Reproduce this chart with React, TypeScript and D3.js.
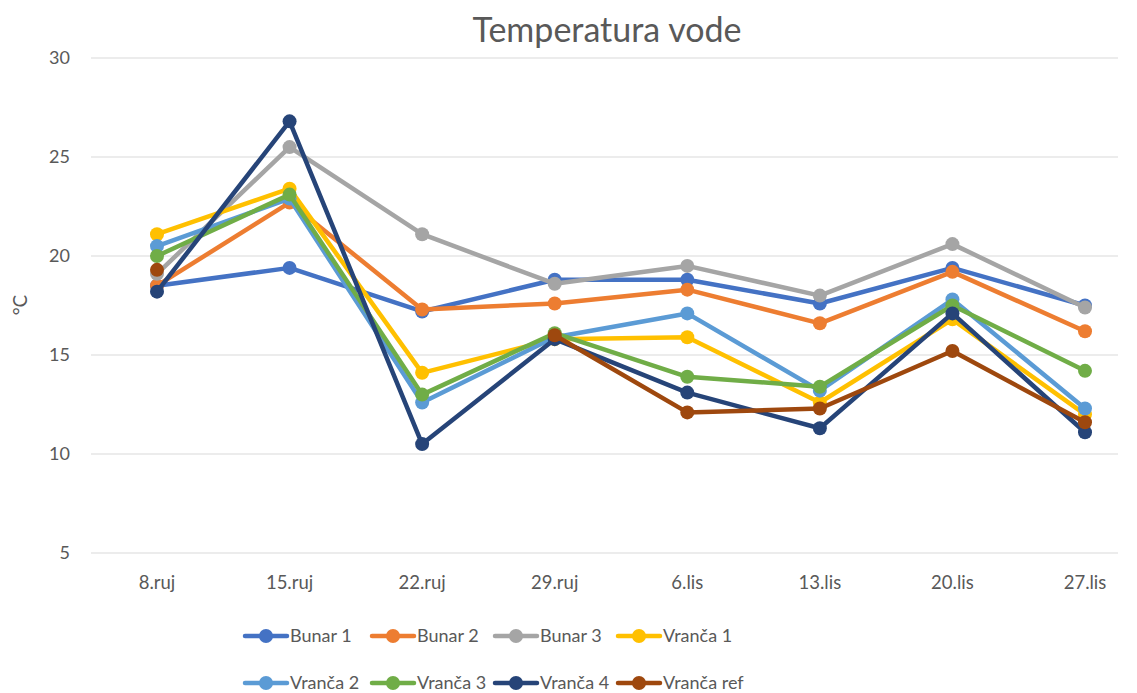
import React, { useEffect, useRef } from 'react';
import * as d3 from 'd3';

const categories = ['8.ruj', '15.ruj', '22.ruj', '29.ruj', '6.lis', '13.lis', '20.lis', '27.lis'];
const yTicks = [5, 10, 15, 20, 25, 30];

const bunar1 = [18.5, 19.4, 17.2, 18.8, 18.8, 17.6, 19.4, 17.5];
const bunar2 = [18.5, 22.7, 17.3, 17.6, 18.3, 16.6, 19.2, 16.2];
const bunar3 = [19.1, 25.5, 21.1, 18.6, 19.5, 18.0, 20.6, 17.4];
const vranca1 = [21.1, 23.4, 14.1, 15.8, 15.9, 12.6, 16.8, 12.0];
const vranca2 = [20.5, 22.9, 12.6, 15.9, 17.1, 13.2, 17.8, 12.3];
const vranca3 = [20.0, 23.1, 13.0, 16.1, 13.9, 13.4, 17.5, 14.2];
const vranca4 = [18.2, 26.8, 10.5, 15.8, 13.1, 11.3, 17.1, 11.1];
const vrancaRef = [19.3, null, null, 16.0, 12.1, 12.3, 15.2, 11.6];

const seriesNames = ['Bunar 1', 'Bunar 2', 'Bunar 3', 'Vranča 1', 'Vranča 2', 'Vranča 3', 'Vranča 4', 'Vranča ref'];
const colors = ['#4472C4', '#ED7D31', '#A5A5A5', '#FFC000', '#5B9BD5', '#70AD47', '#264478', '#9E480E'];

const App = () => {
  const svgRef = useRef<SVGSVGElement>(null);

  useEffect(() => {
    const width = 1137;
    const height = 693;
    const font = 'Lato, "Open Sans", sans-serif';
    const textColor = '#595959';
    const allData = [bunar1, bunar2, bunar3, vranca1, vranca2, vranca3, vranca4, vrancaRef];

    const svg = d3.select(svgRef.current);
    svg.selectAll('*').remove();
    svg.attr('width', width).attr('height', height);

    const x = d3.scalePoint<string>().domain(categories).range([157, 1085]);
    const y = d3.scaleLinear().domain([5, 30]).range([553, 58]);
    const left = 91;
    const right = 1118;

    // gridlines
    svg.append('g')
      .selectAll('line')
      .data(yTicks)
      .join('line')
      .attr('x1', left)
      .attr('x2', right)
      .attr('y1', d => y(d))
      .attr('y2', d => y(d))
      .attr('stroke', '#d9d9d9')
      .attr('stroke-width', 1);

    // y tick labels
    svg.append('g')
      .selectAll('text')
      .data(yTicks)
      .join('text')
      .attr('x', 70)
      .attr('y', d => y(d))
      .attr('dy', '0.35em')
      .attr('text-anchor', 'end')
      .attr('font-family', font)
      .attr('font-size', 18)
      .attr('fill', textColor)
      .text(d => d);

    // x tick labels
    svg.append('g')
      .selectAll('text')
      .data(categories)
      .join('text')
      .attr('x', d => x(d)!)
      .attr('y', 589)
      .attr('text-anchor', 'middle')
      .attr('font-family', font)
      .attr('font-size', 18.5)
      .attr('fill', textColor)
      .text(d => d);

    // title
    svg.append('text')
      .attr('x', 607)
      .attr('y', 42)
      .attr('text-anchor', 'middle')
      .attr('font-family', font)
      .attr('font-size', 34)
      .attr('fill', textColor)
      .text('Temperatura vode');

    // y axis label
    svg.append('text')
      .attr('transform', 'translate(27,305) rotate(-90)')
      .attr('text-anchor', 'middle')
      .attr('font-family', font)
      .attr('font-size', 19)
      .attr('fill', textColor)
      .text('°C');

    const line = d3.line<number | null>()
      .defined(d => d !== null)
      .x((d, i) => x(categories[i])!)
      .y(d => y(d as number));

    allData.forEach((vals, si) => {
      const g = svg.append('g');
      g.append('path')
        .datum(vals)
        .attr('fill', 'none')
        .attr('stroke', colors[si])
        .attr('stroke-width', 4.5)
        .attr('stroke-linejoin', 'round')
        .attr('stroke-linecap', 'round')
        .attr('d', line);
      g.selectAll('circle')
        .data(vals.map((v, i) => ({ v, i })).filter(d => d.v !== null))
        .join('circle')
        .attr('cx', d => x(categories[d.i])!)
        .attr('cy', d => y(d.v as number))
        .attr('r', 7)
        .attr('fill', colors[si]);
    });

    // legend
    const legendX = [243, 370, 493, 616];
    const legendY = [636, 683];
    seriesNames.forEach((name, i) => {
      const lx = legendX[i % 4];
      const ly = legendY[Math.floor(i / 4)];
      const g = svg.append('g');
      g.append('line')
        .attr('x1', lx + 2)
        .attr('x2', lx + 44)
        .attr('y1', ly)
        .attr('y2', ly)
        .attr('stroke', colors[i])
        .attr('stroke-width', 4.5)
        .attr('stroke-linecap', 'round');
      g.append('circle')
        .attr('cx', lx + 23)
        .attr('cy', ly)
        .attr('r', 7)
        .attr('fill', colors[i]);
      g.append('text')
        .attr('x', lx + 47)
        .attr('y', ly)
        .attr('dy', '0.35em')
        .attr('font-family', font)
        .attr('font-size', 18)
        .attr('fill', textColor)
        .text(name);
    });
  }, []);

  return <svg ref={svgRef} style={{ position: 'absolute', left: 0, top: 0 }}></svg>;
};

export default App;
